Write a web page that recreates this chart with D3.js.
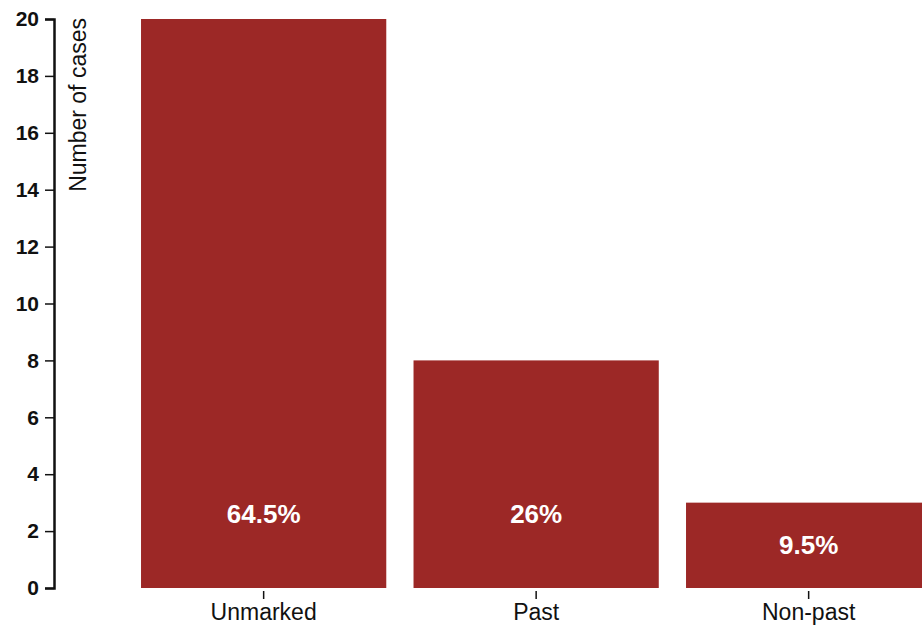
<!DOCTYPE html>
<html>
<head>
<meta charset="utf-8">
<script src="https://cdn.jsdelivr.net/npm/d3@7"></script>
<style>
  body { margin: 0; background: #fff; }
  text { font-family: "Liberation Sans", Arial, Helvetica, sans-serif; }
</style>
</head>
<body>
<div id="chart"></div>
<script>
const categories = ["Unmarked", "Past", "Non-past"];
const counts = [20, 8, 3];
const shares = ["64.5%", "26%", "9.5%"];
const yTicks = [0, 2, 4, 6, 8, 10, 12, 14, 16, 18, 20];

const width = 922, height = 629;
const svg = d3.select("#chart").append("svg")
  .attr("width", width)
  .attr("height", height);

// scales
const x = d3.scaleBand()
  .domain(categories)
  .range([127.4, 127.4 + 817.5])
  .paddingInner(0.1)
  .paddingOuter(0.05);

const y = d3.scaleLinear()
  .domain([0, 20])
  .range([588, 19]);

// y axis
const yAxis = svg.append("g")
  .attr("transform", "translate(54,0)")
  .call(d3.axisLeft(y).tickValues(yTicks).tickSize(9).tickPadding(6));
yAxis.select(".domain").attr("stroke", "#111").attr("stroke-width", 2.5);
yAxis.selectAll(".tick line").attr("stroke", "#111").attr("stroke-width", 1.5);
yAxis.selectAll(".tick text")
  .attr("fill", "#111")
  .style("font-size", "21px")
  .style("font-weight", "bold");

svg.append("text")
  .attr("transform", "translate(86,18) rotate(-90)")
  .attr("text-anchor", "end")
  .attr("fill", "#111")
  .style("font-size", "23px")
  .text("Number of cases");

// bars
svg.selectAll("rect.bar")
  .data(categories)
  .enter()
  .append("rect")
  .attr("class", "bar")
  .attr("x", d => x(d))
  .attr("y", (d, i) => y(counts[i]))
  .attr("width", x.bandwidth())
  .attr("height", (d, i) => y(0) - y(counts[i]))
  .attr("fill", "#9c2826");

// percentage labels
svg.selectAll("text.share")
  .data(categories)
  .enter()
  .append("text")
  .attr("class", "share")
  .attr("x", d => x(d) + x.bandwidth() / 2)
  .attr("y", (d, i) => Math.max((y(counts[i]) + y(0)) / 2, y(0) - 74))
  .attr("dy", "0.35em")
  .attr("text-anchor", "middle")
  .attr("fill", "#fff")
  .style("font-size", "26px")
  .style("font-weight", "bold")
  .text((d, i) => shares[i]);

// x axis (ticks only)
const xAxis = svg.append("g")
  .attr("transform", "translate(0,591)")
  .call(d3.axisBottom(x).tickSize(8).tickSizeOuter(0).tickPadding(5));
xAxis.select(".domain").remove();
xAxis.selectAll(".tick line").attr("stroke", "#111").attr("stroke-width", 1.5);
xAxis.selectAll(".tick text")
  .attr("fill", "#111")
  .style("font-size", "23px");
</script>
</body>
</html>
